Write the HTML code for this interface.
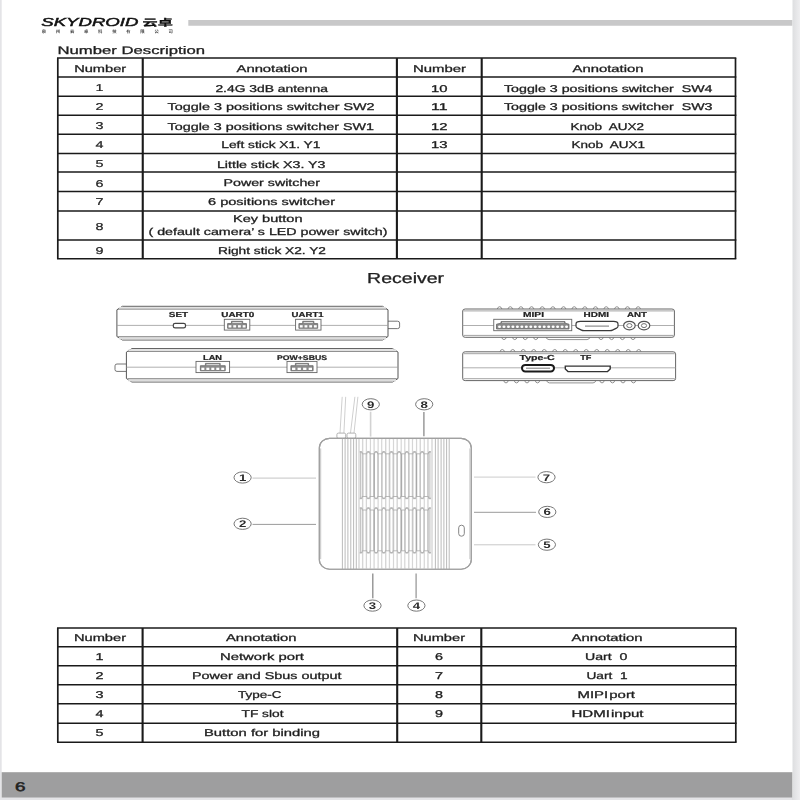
<!DOCTYPE html>
<html lang="en"><head><meta charset="utf-8"><title>Skydroid manual page 6</title>
<style>
html,body{margin:0;padding:0;background:#e4e4e7;width:800px;height:800px;overflow:hidden}
svg{display:block;text-rendering:geometricPrecision;font-family:"Liberation Sans","Noto Sans CJK SC",sans-serif}
text{white-space:pre}
</style></head><body>
<svg width="800" height="800" viewBox="0 0 800 800">
<defs><linearGradient id="mg" x1="0" y1="0" x2="1" y2="0"><stop offset="0" stop-color="#dcdddf"/><stop offset="1" stop-color="#eeeef0"/></linearGradient></defs>
<rect x="0" y="0" width="800" height="800" fill="#e4e4e7"/>
<rect x="792" y="0" width="8" height="800" fill="url(#mg)"/>
<rect x="1.7" y="0" width="790.8" height="797.6" fill="#fff"/>
<rect x="188.3" y="20" width="604" height="5.75" fill="#c8c8c9"/>
<rect x="1.7" y="772.2" width="790.6" height="25.4" fill="#9e9e9f"/>
<text x="14.9" y="791.0" font-size="12.6" font-weight="normal" fill="#202020" stroke="#202020" stroke-width="0.5" textLength="10.5" lengthAdjust="spacingAndGlyphs" >6</text>
<g style="filter:blur(0.4px)">
<text x="41.3" y="25.8" font-size="11.6" font-weight="normal" font-style="italic" fill="#111" stroke="#111" stroke-width="0.45" textLength="97.1" lengthAdjust="spacingAndGlyphs" >SKYDROID</text>
<text x="142.6" y="25.6" font-size="9.5" font-weight="bold" fill="#111" stroke="#111" stroke-width="0.28" textLength="30.2" lengthAdjust="spacingAndGlyphs" >云卓</text>
<text x="41.7" y="33.3" font-size="4.3" font-weight="bold" fill="#444" stroke="#444" stroke-width="0" textLength="131.1" lengthAdjust="spacing" >泉州云卓科技有限公司</text>
<text x="57.5" y="54.4" font-size="11" font-weight="normal" fill="#202020" stroke="#202020" stroke-width="0.28" textLength="147.5" lengthAdjust="spacingAndGlyphs" >Number Description</text>
<line x1="57.0" y1="58.1" x2="736.3" y2="58.1" stroke="#1a1a1a" stroke-width="1.5"/>
<line x1="57.0" y1="77.1" x2="736.3" y2="77.1" stroke="#1a1a1a" stroke-width="1.5"/>
<line x1="57.0" y1="96.35" x2="736.3" y2="96.35" stroke="#1a1a1a" stroke-width="1.5"/>
<line x1="57.0" y1="115.2" x2="736.3" y2="115.2" stroke="#1a1a1a" stroke-width="1.5"/>
<line x1="57.0" y1="134.2" x2="736.3" y2="134.2" stroke="#1a1a1a" stroke-width="1.5"/>
<line x1="57.0" y1="153.4" x2="736.3" y2="153.4" stroke="#1a1a1a" stroke-width="1.5"/>
<line x1="57.0" y1="172" x2="736.3" y2="172" stroke="#1a1a1a" stroke-width="1.5"/>
<line x1="57.0" y1="191.6" x2="736.3" y2="191.6" stroke="#1a1a1a" stroke-width="1.5"/>
<line x1="57.0" y1="210.9" x2="736.3" y2="210.9" stroke="#1a1a1a" stroke-width="1.5"/>
<line x1="57.0" y1="239.9" x2="736.3" y2="239.9" stroke="#1a1a1a" stroke-width="1.5"/>
<line x1="57.0" y1="258.75" x2="736.3" y2="258.75" stroke="#1a1a1a" stroke-width="1.5"/>
<line x1="57.8" y1="58.1" x2="57.8" y2="258.75" stroke="#1a1a1a" stroke-width="1.7"/>
<line x1="142.75" y1="58.1" x2="142.75" y2="258.75" stroke="#1a1a1a" stroke-width="2.1"/>
<line x1="396.9" y1="58.1" x2="396.9" y2="258.75" stroke="#1a1a1a" stroke-width="2.1"/>
<line x1="481.7" y1="58.1" x2="481.7" y2="258.75" stroke="#1a1a1a" stroke-width="2.1"/>
<line x1="735.5" y1="58.1" x2="735.5" y2="258.75" stroke="#1a1a1a" stroke-width="1.7"/>
<text x="74.2" y="72.0" font-size="9.9" font-weight="normal" fill="#202020" stroke="#202020" stroke-width="0.28" textLength="52.0" lengthAdjust="spacingAndGlyphs" >Number</text>
<text x="236.5" y="72.0" font-size="9.9" font-weight="normal" fill="#202020" stroke="#202020" stroke-width="0.28" textLength="70.9" lengthAdjust="spacingAndGlyphs" >Annotation</text>
<text x="413.0" y="72.0" font-size="9.9" font-weight="normal" fill="#202020" stroke="#202020" stroke-width="0.28" textLength="53.0" lengthAdjust="spacingAndGlyphs" >Number</text>
<text x="572.5" y="72.0" font-size="9.9" font-weight="normal" fill="#202020" stroke="#202020" stroke-width="0.28" textLength="71.0" lengthAdjust="spacingAndGlyphs" >Annotation</text>
<text x="95.6" y="90.9" font-size="9.9" font-weight="normal" fill="#202020" stroke="#202020" stroke-width="0.2" textLength="8.0" lengthAdjust="spacingAndGlyphs" >1</text>
<text x="95.6" y="110.1" font-size="9.9" font-weight="normal" fill="#202020" stroke="#202020" stroke-width="0.2" textLength="8.0" lengthAdjust="spacingAndGlyphs" >2</text>
<text x="95.6" y="128.8" font-size="9.9" font-weight="normal" fill="#202020" stroke="#202020" stroke-width="0.2" textLength="8.0" lengthAdjust="spacingAndGlyphs" >3</text>
<text x="95.6" y="147.8" font-size="9.9" font-weight="normal" fill="#202020" stroke="#202020" stroke-width="0.2" textLength="8.0" lengthAdjust="spacingAndGlyphs" >4</text>
<text x="95.6" y="167.3" font-size="9.9" font-weight="normal" fill="#202020" stroke="#202020" stroke-width="0.2" textLength="8.0" lengthAdjust="spacingAndGlyphs" >5</text>
<text x="95.6" y="186.6" font-size="9.9" font-weight="normal" fill="#202020" stroke="#202020" stroke-width="0.2" textLength="8.0" lengthAdjust="spacingAndGlyphs" >6</text>
<text x="95.6" y="205.3" font-size="9.9" font-weight="normal" fill="#202020" stroke="#202020" stroke-width="0.2" textLength="8.0" lengthAdjust="spacingAndGlyphs" >7</text>
<text x="95.6" y="230.0" font-size="9.9" font-weight="normal" fill="#202020" stroke="#202020" stroke-width="0.2" textLength="8.0" lengthAdjust="spacingAndGlyphs" >8</text>
<text x="95.6" y="254.3" font-size="9.9" font-weight="normal" fill="#202020" stroke="#202020" stroke-width="0.2" textLength="8.0" lengthAdjust="spacingAndGlyphs" >9</text>
<text x="215.4" y="91.5" font-size="9.9" font-weight="normal" fill="#202020" stroke="#202020" stroke-width="0.28" textLength="112.5" lengthAdjust="spacingAndGlyphs" >2.4G 3dB antenna</text>
<text x="167.6" y="110.0" font-size="9.9" font-weight="normal" fill="#202020" stroke="#202020" stroke-width="0.28" textLength="207.0" lengthAdjust="spacingAndGlyphs" >Toggle 3 positions switcher SW2</text>
<text x="167.6" y="129.5" font-size="9.9" font-weight="normal" fill="#202020" stroke="#202020" stroke-width="0.28" textLength="206.4" lengthAdjust="spacingAndGlyphs" >Toggle 3 positions switcher SW1</text>
<text x="221.3" y="148.3" font-size="9.9" font-weight="normal" fill="#202020" stroke="#202020" stroke-width="0.28" textLength="99.1" lengthAdjust="spacingAndGlyphs" >Left stick X1. Y1</text>
<text x="217.0" y="168.0" font-size="9.9" font-weight="normal" fill="#202020" stroke="#202020" stroke-width="0.28" textLength="108.3" lengthAdjust="spacingAndGlyphs" >Little stick X3. Y3</text>
<text x="223.5" y="186.0" font-size="9.9" font-weight="normal" fill="#202020" stroke="#202020" stroke-width="0.28" textLength="96.5" lengthAdjust="spacingAndGlyphs" >Power switcher</text>
<text x="208.0" y="205.3" font-size="9.9" font-weight="normal" fill="#202020" stroke="#202020" stroke-width="0.28" textLength="127.0" lengthAdjust="spacingAndGlyphs" >6 positions switcher</text>
<text x="218.0" y="253.8" font-size="9.9" font-weight="normal" fill="#202020" stroke="#202020" stroke-width="0.28" textLength="108.0" lengthAdjust="spacingAndGlyphs" >Right stick X2. Y2</text>
<text x="233.0" y="221.6" font-size="9.9" font-weight="normal" fill="#202020" stroke="#202020" stroke-width="0.28" textLength="69.5" lengthAdjust="spacingAndGlyphs" >Key button</text>
<text x="148.5" y="235.1" font-size="9.9" font-weight="normal" fill="#202020" stroke="#202020" stroke-width="0.28" textLength="239.0" lengthAdjust="spacingAndGlyphs" >( default camera’ s LED power switch)</text>
<text x="431.0" y="91.5" font-size="9.9" font-weight="normal" fill="#202020" stroke="#202020" stroke-width="0.28" textLength="16.5" lengthAdjust="spacingAndGlyphs" >10</text>
<text x="431.0" y="110.0" font-size="9.9" font-weight="normal" fill="#202020" stroke="#202020" stroke-width="0.28" textLength="16.5" lengthAdjust="spacingAndGlyphs" >11</text>
<text x="431.0" y="129.5" font-size="9.9" font-weight="normal" fill="#202020" stroke="#202020" stroke-width="0.28" textLength="16.5" lengthAdjust="spacingAndGlyphs" >12</text>
<text x="431.0" y="148.3" font-size="9.9" font-weight="normal" fill="#202020" stroke="#202020" stroke-width="0.28" textLength="16.5" lengthAdjust="spacingAndGlyphs" >13</text>
<text x="504.0" y="91.5" font-size="9.9" font-weight="normal" fill="#202020" stroke="#202020" stroke-width="0.28" textLength="208.5" lengthAdjust="spacingAndGlyphs" >Toggle 3 positions switcher  SW4</text>
<text x="504.0" y="110.0" font-size="9.9" font-weight="normal" fill="#202020" stroke="#202020" stroke-width="0.28" textLength="208.5" lengthAdjust="spacingAndGlyphs" >Toggle 3 positions switcher  SW3</text>
<text x="570.5" y="129.5" font-size="9.9" font-weight="normal" fill="#202020" stroke="#202020" stroke-width="0.28" textLength="73.5" lengthAdjust="spacingAndGlyphs" >Knob  AUX2</text>
<text x="571.5" y="148.3" font-size="9.9" font-weight="normal" fill="#202020" stroke="#202020" stroke-width="0.28" textLength="73.5" lengthAdjust="spacingAndGlyphs" >Knob  AUX1</text>
<text x="367.1" y="283.0" font-size="14.5" font-weight="normal" fill="#202020" stroke="#202020" stroke-width="0.28" textLength="77.0" lengthAdjust="spacingAndGlyphs" >Receiver</text>
<line x1="57.0" y1="628" x2="736.5999999999999" y2="628" stroke="#1a1a1a" stroke-width="1.5"/>
<line x1="57.0" y1="646.8" x2="736.5999999999999" y2="646.8" stroke="#1a1a1a" stroke-width="1.5"/>
<line x1="57.0" y1="665.8" x2="736.5999999999999" y2="665.8" stroke="#1a1a1a" stroke-width="1.5"/>
<line x1="57.0" y1="684.7" x2="736.5999999999999" y2="684.7" stroke="#1a1a1a" stroke-width="1.5"/>
<line x1="57.0" y1="703.8" x2="736.5999999999999" y2="703.8" stroke="#1a1a1a" stroke-width="1.5"/>
<line x1="57.0" y1="723.2" x2="736.5999999999999" y2="723.2" stroke="#1a1a1a" stroke-width="1.5"/>
<line x1="57.0" y1="742.3" x2="736.5999999999999" y2="742.3" stroke="#1a1a1a" stroke-width="1.5"/>
<line x1="57.8" y1="628" x2="57.8" y2="742.3" stroke="#1a1a1a" stroke-width="1.7"/>
<line x1="142.6" y1="628" x2="142.6" y2="742.3" stroke="#1a1a1a" stroke-width="2.1"/>
<line x1="397.2" y1="628" x2="397.2" y2="742.3" stroke="#1a1a1a" stroke-width="2.1"/>
<line x1="481.3" y1="628" x2="481.3" y2="742.3" stroke="#1a1a1a" stroke-width="2.1"/>
<line x1="735.8" y1="628" x2="735.8" y2="742.3" stroke="#1a1a1a" stroke-width="1.7"/>
<text x="74.0" y="640.7" font-size="9.9" font-weight="normal" fill="#202020" stroke="#202020" stroke-width="0.28" textLength="52.0" lengthAdjust="spacingAndGlyphs" >Number</text>
<text x="226.0" y="640.7" font-size="9.9" font-weight="normal" fill="#202020" stroke="#202020" stroke-width="0.28" textLength="70.5" lengthAdjust="spacingAndGlyphs" >Annotation</text>
<text x="413.0" y="640.7" font-size="9.9" font-weight="normal" fill="#202020" stroke="#202020" stroke-width="0.28" textLength="52.0" lengthAdjust="spacingAndGlyphs" >Number</text>
<text x="571.5" y="640.7" font-size="9.9" font-weight="normal" fill="#202020" stroke="#202020" stroke-width="0.28" textLength="71.0" lengthAdjust="spacingAndGlyphs" >Annotation</text>
<text x="95.6" y="659.7" font-size="9.9" font-weight="normal" fill="#202020" stroke="#202020" stroke-width="0.28" textLength="8.0" lengthAdjust="spacingAndGlyphs" >1</text>
<text x="95.6" y="678.6" font-size="9.9" font-weight="normal" fill="#202020" stroke="#202020" stroke-width="0.28" textLength="8.0" lengthAdjust="spacingAndGlyphs" >2</text>
<text x="95.6" y="697.7" font-size="9.9" font-weight="normal" fill="#202020" stroke="#202020" stroke-width="0.28" textLength="8.0" lengthAdjust="spacingAndGlyphs" >3</text>
<text x="95.6" y="717.1" font-size="9.9" font-weight="normal" fill="#202020" stroke="#202020" stroke-width="0.28" textLength="8.0" lengthAdjust="spacingAndGlyphs" >4</text>
<text x="95.6" y="736.2" font-size="9.9" font-weight="normal" fill="#202020" stroke="#202020" stroke-width="0.28" textLength="8.0" lengthAdjust="spacingAndGlyphs" >5</text>
<text x="435.0" y="659.7" font-size="9.9" font-weight="normal" fill="#202020" stroke="#202020" stroke-width="0.28" textLength="8.0" lengthAdjust="spacingAndGlyphs" >6</text>
<text x="435.0" y="678.6" font-size="9.9" font-weight="normal" fill="#202020" stroke="#202020" stroke-width="0.28" textLength="8.0" lengthAdjust="spacingAndGlyphs" >7</text>
<text x="435.0" y="697.7" font-size="9.9" font-weight="normal" fill="#202020" stroke="#202020" stroke-width="0.28" textLength="8.0" lengthAdjust="spacingAndGlyphs" >8</text>
<text x="435.0" y="717.1" font-size="9.9" font-weight="normal" fill="#202020" stroke="#202020" stroke-width="0.28" textLength="8.0" lengthAdjust="spacingAndGlyphs" >9</text>
<text x="220.0" y="659.7" font-size="9.9" font-weight="normal" fill="#202020" stroke="#202020" stroke-width="0.28" textLength="84.0" lengthAdjust="spacingAndGlyphs" >Network port</text>
<text x="192.0" y="678.6" font-size="9.9" font-weight="normal" fill="#202020" stroke="#202020" stroke-width="0.28" textLength="149.5" lengthAdjust="spacingAndGlyphs" >Power and Sbus output</text>
<text x="238.0" y="697.7" font-size="9.9" font-weight="normal" fill="#202020" stroke="#202020" stroke-width="0.28" textLength="43.5" lengthAdjust="spacingAndGlyphs" >Type-C</text>
<text x="241.5" y="717.1" font-size="9.9" font-weight="normal" fill="#202020" stroke="#202020" stroke-width="0.28" textLength="42.0" lengthAdjust="spacingAndGlyphs" >TF slot</text>
<text x="204.0" y="736.2" font-size="9.9" font-weight="normal" fill="#202020" stroke="#202020" stroke-width="0.28" textLength="116.0" lengthAdjust="spacingAndGlyphs" >Button for binding</text>
<text x="585.0" y="659.7" font-size="9.9" font-weight="normal" fill="#202020" stroke="#202020" stroke-width="0.28" textLength="42.5" lengthAdjust="spacingAndGlyphs" >Uart  0</text>
<text x="586.5" y="678.6" font-size="9.9" font-weight="normal" fill="#202020" stroke="#202020" stroke-width="0.28" textLength="41.0" lengthAdjust="spacingAndGlyphs" >Uart  1</text>
<text x="577.5" y="697.7" font-size="9.9" font-weight="normal" fill="#202020" stroke="#202020" stroke-width="0.28" textLength="57.5" lengthAdjust="spacingAndGlyphs" word-spacing="-2">MIPI port</text>
<text x="571.5" y="717.1" font-size="9.9" font-weight="normal" fill="#202020" stroke="#202020" stroke-width="0.28" textLength="72.0" lengthAdjust="spacingAndGlyphs" word-spacing="-2">HDMI input</text>
<path d="M388,321.2 L397.5,321.2 Q399.6,321.2 399.6,323 L399.6,326.8 Q399.6,328.6 397.5,328.6 L388,328.6" stroke="#666" stroke-width="0.9" fill="#fff" />
<path d="M122.4,306.3 L382.5,306.3 L388,309.8 L388,336.5 L382.5,340 L122.4,340 L116.9,336.5 L116.9,309.8 Z" stroke="#555" stroke-width="1.0" fill="#fff" />
<rect x="118.9" y="306.90000000000003" width="267.1" height="2.2" fill="#e2e2e2"/>
<rect x="118.9" y="336.8" width="267.1" height="2.6" fill="#dcdcdc"/>
<line x1="118.10" y1="309.20" x2="386.80" y2="309.20" stroke="#777" stroke-width="0.8"/>
<line x1="118.10" y1="336.60" x2="386.80" y2="336.60" stroke="#777" stroke-width="0.8"/>
<line x1="116.90" y1="325.40" x2="388.00" y2="325.40" stroke="#9a9a9a" stroke-width="0.8"/>
<text x="168.8" y="317.2" font-size="7.3" font-weight="bold" fill="#222" stroke="#222" stroke-width="0.2" textLength="19.3" lengthAdjust="spacingAndGlyphs">SET</text>
<rect x="173.30" y="323.30" width="12.20" height="4.60" rx="1.8" ry="1.6" stroke="#444" stroke-width="1.2" fill="#fff"/>
<text x="221.3" y="317.3" font-size="7.3" font-weight="bold" fill="#222" stroke="#222" stroke-width="0.2" textLength="33.0" lengthAdjust="spacingAndGlyphs">UART0</text>
<rect x="224.30" y="319.30" width="25.50" height="10.80" rx="0" ry="0" stroke="#666" stroke-width="0.9" fill="#fff"/>
<path d="M231.44,321.3 L242.66000000000003,321.3 L242.66000000000003,323.6 L246.485,323.6 L246.485,328.3 L227.615,328.3 L227.615,323.6 L231.44,323.6 Z" stroke="#666" stroke-width="0.8" fill="#8a8a8a" />
<line x1="232.44" y1="322.50" x2="241.66" y2="322.50" stroke="#fff" stroke-width="0.7"/>
<rect x="228.56" y="325.20" width="2.83" height="2.3" fill="#fff"/>
<rect x="233.28" y="325.20" width="2.83" height="2.3" fill="#fff"/>
<rect x="237.99" y="325.20" width="2.83" height="2.3" fill="#fff"/>
<rect x="242.71" y="325.20" width="2.83" height="2.3" fill="#fff"/>
<text x="291.6" y="317.3" font-size="7.3" font-weight="bold" fill="#222" stroke="#222" stroke-width="0.2" textLength="32.0" lengthAdjust="spacingAndGlyphs">UART1</text>
<rect x="295.60" y="319.30" width="25.40" height="10.80" rx="0" ry="0" stroke="#666" stroke-width="0.9" fill="#fff"/>
<path d="M302.712,321.3 L313.88800000000003,321.3 L313.88800000000003,323.6 L317.698,323.6 L317.698,328.3 L298.90200000000004,328.3 L298.90200000000004,323.6 L302.712,323.6 Z" stroke="#666" stroke-width="0.8" fill="#8a8a8a" />
<line x1="303.71" y1="322.50" x2="312.89" y2="322.50" stroke="#fff" stroke-width="0.7"/>
<rect x="299.84" y="325.20" width="2.82" height="2.3" fill="#fff"/>
<rect x="304.54" y="325.20" width="2.82" height="2.3" fill="#fff"/>
<rect x="309.24" y="325.20" width="2.82" height="2.3" fill="#fff"/>
<rect x="313.94" y="325.20" width="2.82" height="2.3" fill="#fff"/>
<path d="M126.4,364 L117,364 Q115,364 115,365.8 L115,369.6 Q115,371.4 117,371.4 L126.4,371.4" stroke="#666" stroke-width="0.9" fill="#fff" />
<path d="M131.9,348.6 L392.5,348.6 L398,352.1 L398,378.5 L392.5,382 L131.9,382 L126.4,378.5 L126.4,352.1 Z" stroke="#555" stroke-width="1.0" fill="#fff" />
<rect x="128.4" y="349.20000000000005" width="267.6" height="2.2" fill="#e2e2e2"/>
<rect x="128.4" y="378.8" width="267.6" height="2.6" fill="#dcdcdc"/>
<line x1="127.60" y1="351.50" x2="396.80" y2="351.50" stroke="#777" stroke-width="0.8"/>
<line x1="127.60" y1="378.60" x2="396.80" y2="378.60" stroke="#777" stroke-width="0.8"/>
<line x1="126.40" y1="367.20" x2="398.00" y2="367.20" stroke="#9a9a9a" stroke-width="0.8"/>
<text x="203.0" y="359.6" font-size="7.3" font-weight="bold" fill="#222" stroke="#222" stroke-width="0.2" textLength="19.0" lengthAdjust="spacingAndGlyphs">LAN</text>
<rect x="196.00" y="361.40" width="33.60" height="11.20" rx="0" ry="0" stroke="#666" stroke-width="0.9" fill="#fff"/>
<path d="M205.408,363.4 L220.192,363.4 L220.192,365.7 L225.232,365.7 L225.232,370.8 L200.368,370.8 L200.368,365.7 L205.408,365.7 Z" stroke="#666" stroke-width="0.8" fill="#8a8a8a" />
<line x1="206.41" y1="364.60" x2="219.19" y2="364.60" stroke="#fff" stroke-width="0.7"/>
<rect x="201.36" y="367.70" width="2.98" height="2.3" fill="#fff"/>
<rect x="206.34" y="367.70" width="2.98" height="2.3" fill="#fff"/>
<rect x="211.31" y="367.70" width="2.98" height="2.3" fill="#fff"/>
<rect x="216.28" y="367.70" width="2.98" height="2.3" fill="#fff"/>
<rect x="221.25" y="367.70" width="2.98" height="2.3" fill="#fff"/>
<text x="277.0" y="359.8" font-size="6.8" font-weight="bold" fill="#222" stroke="#222" stroke-width="0.2" textLength="50.0" lengthAdjust="spacingAndGlyphs">POW+SBUS</text>
<rect x="287.00" y="361.40" width="30.00" height="11.20" rx="0" ry="0" stroke="#666" stroke-width="0.9" fill="#fff"/>
<path d="M295.4,363.4 L308.6,363.4 L308.6,365.7 L313.1,365.7 L313.1,370.8 L290.9,370.8 L290.9,365.7 L295.4,365.7 Z" stroke="#666" stroke-width="0.8" fill="#8a8a8a" />
<line x1="296.40" y1="364.60" x2="307.60" y2="364.60" stroke="#fff" stroke-width="0.7"/>
<rect x="292.01" y="367.70" width="3.33" height="2.3" fill="#fff"/>
<rect x="297.56" y="367.70" width="3.33" height="2.3" fill="#fff"/>
<rect x="303.11" y="367.70" width="3.33" height="2.3" fill="#fff"/>
<rect x="308.66" y="367.70" width="3.33" height="2.3" fill="#fff"/>
<path d="M497.30,309 Q497.90,306.70 499.60,306.70 Q501.30,306.70 501.90,309" stroke="#777" stroke-width="0.8" fill="#fff" />
<path d="M507.96,309 Q508.56,306.70 510.26,306.70 Q511.96,306.70 512.56,309" stroke="#777" stroke-width="0.8" fill="#fff" />
<path d="M518.62,309 Q519.22,306.70 520.92,306.70 Q522.62,306.70 523.22,309" stroke="#777" stroke-width="0.8" fill="#fff" />
<path d="M529.28,309 Q529.88,306.70 531.58,306.70 Q533.28,306.70 533.88,309" stroke="#777" stroke-width="0.8" fill="#fff" />
<path d="M539.94,309 Q540.54,306.70 542.24,306.70 Q543.94,306.70 544.54,309" stroke="#777" stroke-width="0.8" fill="#fff" />
<path d="M550.60,309 Q551.20,306.70 552.90,306.70 Q554.60,306.70 555.20,309" stroke="#777" stroke-width="0.8" fill="#fff" />
<path d="M561.26,309 Q561.86,306.70 563.56,306.70 Q565.26,306.70 565.86,309" stroke="#777" stroke-width="0.8" fill="#fff" />
<path d="M571.92,309 Q572.52,306.70 574.22,306.70 Q575.92,306.70 576.52,309" stroke="#777" stroke-width="0.8" fill="#fff" />
<path d="M582.58,309 Q583.18,306.70 584.88,306.70 Q586.58,306.70 587.18,309" stroke="#777" stroke-width="0.8" fill="#fff" />
<path d="M593.24,309 Q593.84,306.70 595.54,306.70 Q597.24,306.70 597.84,309" stroke="#777" stroke-width="0.8" fill="#fff" />
<path d="M603.90,309 Q604.50,306.70 606.20,306.70 Q607.90,306.70 608.50,309" stroke="#777" stroke-width="0.8" fill="#fff" />
<path d="M614.56,309 Q615.16,306.70 616.86,306.70 Q618.56,306.70 619.16,309" stroke="#777" stroke-width="0.8" fill="#fff" />
<path d="M625.22,309 Q625.82,306.70 627.52,306.70 Q629.22,306.70 629.82,309" stroke="#777" stroke-width="0.8" fill="#fff" />
<path d="M635.88,309 Q636.48,306.70 638.18,306.70 Q639.88,306.70 640.48,309" stroke="#777" stroke-width="0.8" fill="#fff" />
<path d="M501.70,337.3 Q502.30,339.60 504.00,339.60 Q505.70,339.60 506.30,337.3" stroke="#777" stroke-width="0.8" fill="#fff" />
<path d="M512.45,337.3 Q513.05,339.60 514.75,339.60 Q516.45,339.60 517.05,337.3" stroke="#777" stroke-width="0.8" fill="#fff" />
<path d="M522.95,337.3 Q523.55,339.60 525.25,339.60 Q526.95,339.60 527.55,337.3" stroke="#777" stroke-width="0.8" fill="#fff" />
<path d="M533.45,337.3 Q534.05,339.60 535.75,339.60 Q537.45,339.60 538.05,337.3" stroke="#777" stroke-width="0.8" fill="#fff" />
<path d="M598.70,337.3 Q599.30,339.60 601.00,339.60 Q602.70,339.60 603.30,337.3" stroke="#777" stroke-width="0.8" fill="#fff" />
<path d="M609.30,337.3 Q609.90,339.60 611.60,339.60 Q613.30,339.60 613.90,337.3" stroke="#777" stroke-width="0.8" fill="#fff" />
<path d="M620.10,337.3 Q620.70,339.60 622.40,339.60 Q624.10,339.60 624.70,337.3" stroke="#777" stroke-width="0.8" fill="#fff" />
<path d="M630.70,337.3 Q631.30,339.60 633.00,339.60 Q634.70,339.60 635.30,337.3" stroke="#777" stroke-width="0.8" fill="#fff" />
<path d="M546,337.3 Q547,339.6 549,339.6 L587,339.6 Q589,339.6 590,337.3" stroke="#777" stroke-width="0.8" fill="#fff" />
<rect x="462.70" y="309.00" width="211.70" height="28.30" rx="2.5" ry="2" stroke="#666" stroke-width="1.0" fill="#fff"/>
<line x1="463.50" y1="310.90" x2="673.60" y2="310.90" stroke="#8a8a8a" stroke-width="0.8"/>
<line x1="463.50" y1="335.40" x2="673.60" y2="335.40" stroke="#8a8a8a" stroke-width="0.8"/>
<line x1="462.70" y1="325.50" x2="674.40" y2="325.50" stroke="#9a9a9a" stroke-width="0.8"/>
<text x="523.0" y="317.4" font-size="7.3" font-weight="bold" fill="#222" stroke="#222" stroke-width="0.2" textLength="21.0" lengthAdjust="spacingAndGlyphs">MIPI</text>
<rect x="493.75" y="319.30" width="78.00" height="11.40" rx="0" ry="0" stroke="#666" stroke-width="0.9" fill="#fff"/>
<path d="M501,321.6 L565,321.6 L565,323.2 L569,324.2 L569,329 L496.5,329 L496.5,324.2 L501,323.2 Z" stroke="#666" stroke-width="0.8" fill="#8a8a8a" />
<line x1="502.00" y1="322.50" x2="564.00" y2="322.50" stroke="#eee" stroke-width="0.6"/>
<ellipse cx="499.50" cy="326.7" rx="1.5" ry="1.25" fill="#fff"/>
<ellipse cx="503.97" cy="326.7" rx="1.5" ry="1.25" fill="#fff"/>
<ellipse cx="508.44" cy="326.7" rx="1.5" ry="1.25" fill="#fff"/>
<ellipse cx="512.91" cy="326.7" rx="1.5" ry="1.25" fill="#fff"/>
<ellipse cx="517.38" cy="326.7" rx="1.5" ry="1.25" fill="#fff"/>
<ellipse cx="521.85" cy="326.7" rx="1.5" ry="1.25" fill="#fff"/>
<ellipse cx="526.32" cy="326.7" rx="1.5" ry="1.25" fill="#fff"/>
<ellipse cx="530.79" cy="326.7" rx="1.5" ry="1.25" fill="#fff"/>
<ellipse cx="535.26" cy="326.7" rx="1.5" ry="1.25" fill="#fff"/>
<ellipse cx="539.73" cy="326.7" rx="1.5" ry="1.25" fill="#fff"/>
<ellipse cx="544.20" cy="326.7" rx="1.5" ry="1.25" fill="#fff"/>
<ellipse cx="548.67" cy="326.7" rx="1.5" ry="1.25" fill="#fff"/>
<ellipse cx="553.14" cy="326.7" rx="1.5" ry="1.25" fill="#fff"/>
<ellipse cx="557.61" cy="326.7" rx="1.5" ry="1.25" fill="#fff"/>
<ellipse cx="562.08" cy="326.7" rx="1.5" ry="1.25" fill="#fff"/>
<ellipse cx="566.55" cy="326.7" rx="1.5" ry="1.25" fill="#fff"/>
<text x="583.6" y="317.4" font-size="7.3" font-weight="bold" fill="#222" stroke="#222" stroke-width="0.2" textLength="25.4" lengthAdjust="spacingAndGlyphs">HDMI</text>
<path d="M580.5,321.4 L613.5,321.4 Q618,321.4 618,324 L618,326.3 Q618,327.3 616.5,328.1 L612.5,330.1 Q611.5,330.6 610,330.6 L584,330.6 Q582.5,330.6 581.5,330.1 L577.5,328.1 Q576,327.3 576,326.3 L576,324 Q576,321.4 580.5,321.4 Z" stroke="#3a3a3a" stroke-width="1.2" fill="#fff" />
<line x1="585.00" y1="326.10" x2="609.00" y2="326.10" stroke="#666" stroke-width="0.9"/>
<text x="627.0" y="317.4" font-size="7.3" font-weight="bold" fill="#222" stroke="#222" stroke-width="0.2" textLength="20.0" lengthAdjust="spacingAndGlyphs">ANT</text>
<ellipse cx="629.4" cy="325.6" rx="5.8" ry="4.3" fill="#fff" stroke="#555" stroke-width="1.2"/>
<ellipse cx="629.4" cy="325.6" rx="2.6" ry="2" fill="#fff" stroke="#666" stroke-width="0.9"/>
<ellipse cx="644" cy="325.6" rx="5.8" ry="4.3" fill="#fff" stroke="#555" stroke-width="1.2"/>
<ellipse cx="644" cy="325.6" rx="2.6" ry="2" fill="#fff" stroke="#666" stroke-width="0.9"/>
<path d="M499.95,351.8 Q500.55,349.50 502.25,349.50 Q503.95,349.50 504.55,351.8" stroke="#777" stroke-width="0.8" fill="#fff" />
<path d="M510.45,351.8 Q511.05,349.50 512.75,349.50 Q514.45,349.50 515.05,351.8" stroke="#777" stroke-width="0.8" fill="#fff" />
<path d="M520.95,351.8 Q521.55,349.50 523.25,349.50 Q524.95,349.50 525.55,351.8" stroke="#777" stroke-width="0.8" fill="#fff" />
<path d="M531.45,351.8 Q532.05,349.50 533.75,349.50 Q535.45,349.50 536.05,351.8" stroke="#777" stroke-width="0.8" fill="#fff" />
<path d="M541.95,351.8 Q542.55,349.50 544.25,349.50 Q545.95,349.50 546.55,351.8" stroke="#777" stroke-width="0.8" fill="#fff" />
<path d="M552.45,351.8 Q553.05,349.50 554.75,349.50 Q556.45,349.50 557.05,351.8" stroke="#777" stroke-width="0.8" fill="#fff" />
<path d="M562.95,351.8 Q563.55,349.50 565.25,349.50 Q566.95,349.50 567.55,351.8" stroke="#777" stroke-width="0.8" fill="#fff" />
<path d="M573.45,351.8 Q574.05,349.50 575.75,349.50 Q577.45,349.50 578.05,351.8" stroke="#777" stroke-width="0.8" fill="#fff" />
<path d="M583.95,351.8 Q584.55,349.50 586.25,349.50 Q587.95,349.50 588.55,351.8" stroke="#777" stroke-width="0.8" fill="#fff" />
<path d="M594.45,351.8 Q595.05,349.50 596.75,349.50 Q598.45,349.50 599.05,351.8" stroke="#777" stroke-width="0.8" fill="#fff" />
<path d="M604.95,351.8 Q605.55,349.50 607.25,349.50 Q608.95,349.50 609.55,351.8" stroke="#777" stroke-width="0.8" fill="#fff" />
<path d="M615.45,351.8 Q616.05,349.50 617.75,349.50 Q619.45,349.50 620.05,351.8" stroke="#777" stroke-width="0.8" fill="#fff" />
<path d="M625.95,351.8 Q626.55,349.50 628.25,349.50 Q629.95,349.50 630.55,351.8" stroke="#777" stroke-width="0.8" fill="#fff" />
<path d="M636.45,351.8 Q637.05,349.50 638.75,349.50 Q640.45,349.50 641.05,351.8" stroke="#777" stroke-width="0.8" fill="#fff" />
<path d="M503.70,380.6 Q504.30,382.90 506.00,382.90 Q507.70,382.90 508.30,380.6" stroke="#777" stroke-width="0.8" fill="#fff" />
<path d="M514.20,380.6 Q514.80,382.90 516.50,382.90 Q518.20,382.90 518.80,380.6" stroke="#777" stroke-width="0.8" fill="#fff" />
<path d="M524.70,380.6 Q525.30,382.90 527.00,382.90 Q528.70,382.90 529.30,380.6" stroke="#777" stroke-width="0.8" fill="#fff" />
<path d="M535.20,380.6 Q535.80,382.90 537.50,382.90 Q539.20,382.90 539.80,380.6" stroke="#777" stroke-width="0.8" fill="#fff" />
<path d="M599.70,380.6 Q600.30,382.90 602.00,382.90 Q603.70,382.90 604.30,380.6" stroke="#777" stroke-width="0.8" fill="#fff" />
<path d="M610.20,380.6 Q610.80,382.90 612.50,382.90 Q614.20,382.90 614.80,380.6" stroke="#777" stroke-width="0.8" fill="#fff" />
<path d="M620.70,380.6 Q621.30,382.90 623.00,382.90 Q624.70,382.90 625.30,380.6" stroke="#777" stroke-width="0.8" fill="#fff" />
<path d="M631.20,380.6 Q631.80,382.90 633.50,382.90 Q635.20,382.90 635.80,380.6" stroke="#777" stroke-width="0.8" fill="#fff" />
<path d="M546.5,380.6 Q547.5,382.90000000000003 549.5,382.90000000000003 L593,382.90000000000003 Q595,382.90000000000003 596,380.6" stroke="#777" stroke-width="0.8" fill="#fff" />
<rect x="462.70" y="351.80" width="212.90" height="28.80" rx="2.5" ry="2" stroke="#666" stroke-width="1.0" fill="#fff"/>
<line x1="463.50" y1="353.70" x2="674.80" y2="353.70" stroke="#8a8a8a" stroke-width="0.8"/>
<line x1="463.50" y1="378.70" x2="674.80" y2="378.70" stroke="#8a8a8a" stroke-width="0.8"/>
<line x1="462.70" y1="367.80" x2="675.60" y2="367.80" stroke="#9a9a9a" stroke-width="0.8"/>
<text x="519.5" y="359.7" font-size="7.3" font-weight="bold" fill="#222" stroke="#222" stroke-width="0.2" textLength="35.2" lengthAdjust="spacingAndGlyphs">Type-C</text>
<rect x="522" y="364.9" width="32" height="6.6" rx="3.3" ry="3.2" fill="#fff" stroke="#1a1a1a" stroke-width="2"/>
<line x1="526.00" y1="368.20" x2="550.00" y2="368.20" stroke="#555" stroke-width="0.8"/>
<text x="580.2" y="359.7" font-size="7.3" font-weight="bold" fill="#222" stroke="#222" stroke-width="0.2" textLength="11.2" lengthAdjust="spacingAndGlyphs">TF</text>
<path d="M565.3,366.1 L610.2,366.1 L610.2,369 L607.5,371.6 L568,371.6 L565.3,369 Z" stroke="#333" stroke-width="1.4" fill="#fff" />
<line x1="342.20" y1="396.80" x2="340.00" y2="433.00" stroke="#cfcfcf" stroke-width="1.0"/>
<line x1="345.70" y1="396.80" x2="343.90" y2="433.00" stroke="#cfcfcf" stroke-width="1.0"/>
<line x1="354.90" y1="396.80" x2="350.50" y2="433.00" stroke="#cfcfcf" stroke-width="1.0"/>
<line x1="357.90" y1="396.80" x2="354.00" y2="433.00" stroke="#cfcfcf" stroke-width="1.0"/>
<rect x="336.90" y="433.10" width="8.80" height="5.30" rx="1.5" ry="1.5" stroke="#a8a8a8" stroke-width="0.9" fill="#fff"/>
<rect x="347.00" y="433.10" width="8.80" height="5.30" rx="1.5" ry="1.5" stroke="#a8a8a8" stroke-width="0.9" fill="#fff"/>
<rect x="319.30" y="438.40" width="152.00" height="130.80" rx="10.2" ry="9.6" stroke="#a0a0a0" stroke-width="1.1" fill="#fff"/>
<line x1="320.70" y1="448.40" x2="320.70" y2="559.20" stroke="#c0c0c0" stroke-width="0.9"/>
<line x1="469.90" y1="448.40" x2="469.90" y2="559.20" stroke="#c0c0c0" stroke-width="0.9"/>
<line x1="342.40" y1="438.40" x2="342.40" y2="569.20" stroke="#b2b2b2" stroke-width="0.9"/>
<line x1="345.10" y1="438.40" x2="345.10" y2="569.20" stroke="#b2b2b2" stroke-width="0.9"/>
<line x1="347.90" y1="438.40" x2="347.90" y2="569.20" stroke="#b2b2b2" stroke-width="0.9"/>
<line x1="350.80" y1="438.40" x2="350.80" y2="569.20" stroke="#b2b2b2" stroke-width="0.9"/>
<line x1="353.60" y1="438.40" x2="353.60" y2="569.20" stroke="#b2b2b2" stroke-width="0.9"/>
<line x1="356.30" y1="438.40" x2="356.30" y2="569.20" stroke="#b2b2b2" stroke-width="0.9"/>
<line x1="435.40" y1="438.40" x2="435.40" y2="569.20" stroke="#b2b2b2" stroke-width="0.9"/>
<line x1="438.10" y1="438.40" x2="438.10" y2="569.20" stroke="#b2b2b2" stroke-width="0.9"/>
<line x1="441.10" y1="438.40" x2="441.10" y2="569.20" stroke="#b2b2b2" stroke-width="0.9"/>
<line x1="443.90" y1="438.40" x2="443.90" y2="569.20" stroke="#b2b2b2" stroke-width="0.9"/>
<line x1="446.60" y1="438.40" x2="446.60" y2="569.20" stroke="#b2b2b2" stroke-width="0.9"/>
<line x1="449.20" y1="438.40" x2="449.20" y2="569.20" stroke="#b2b2b2" stroke-width="0.9"/>
<line x1="359.00" y1="438.40" x2="359.00" y2="569.20" stroke="#d6d6d6" stroke-width="1.4"/>
<line x1="362.65" y1="438.40" x2="362.65" y2="569.20" stroke="#d6d6d6" stroke-width="1.4"/>
<line x1="366.44" y1="438.40" x2="366.44" y2="569.20" stroke="#d6d6d6" stroke-width="1.4"/>
<line x1="370.34" y1="438.40" x2="370.34" y2="569.20" stroke="#d6d6d6" stroke-width="1.4"/>
<line x1="374.13" y1="438.40" x2="374.13" y2="569.20" stroke="#d6d6d6" stroke-width="1.4"/>
<line x1="378.03" y1="438.40" x2="378.03" y2="569.20" stroke="#d6d6d6" stroke-width="1.4"/>
<line x1="381.82" y1="438.40" x2="381.82" y2="569.20" stroke="#d6d6d6" stroke-width="1.4"/>
<line x1="385.72" y1="438.40" x2="385.72" y2="569.20" stroke="#d6d6d6" stroke-width="1.4"/>
<line x1="389.51" y1="438.40" x2="389.51" y2="569.20" stroke="#d6d6d6" stroke-width="1.4"/>
<line x1="393.41" y1="438.40" x2="393.41" y2="569.20" stroke="#d6d6d6" stroke-width="1.4"/>
<line x1="397.20" y1="438.40" x2="397.20" y2="569.20" stroke="#d6d6d6" stroke-width="1.4"/>
<line x1="401.10" y1="438.40" x2="401.10" y2="569.20" stroke="#d6d6d6" stroke-width="1.4"/>
<line x1="404.89" y1="438.40" x2="404.89" y2="569.20" stroke="#d6d6d6" stroke-width="1.4"/>
<line x1="408.79" y1="438.40" x2="408.79" y2="569.20" stroke="#d6d6d6" stroke-width="1.4"/>
<line x1="412.58" y1="438.40" x2="412.58" y2="569.20" stroke="#d6d6d6" stroke-width="1.4"/>
<line x1="416.48" y1="438.40" x2="416.48" y2="569.20" stroke="#d6d6d6" stroke-width="1.4"/>
<line x1="420.27" y1="438.40" x2="420.27" y2="569.20" stroke="#d6d6d6" stroke-width="1.4"/>
<line x1="424.17" y1="438.40" x2="424.17" y2="569.20" stroke="#d6d6d6" stroke-width="1.4"/>
<line x1="427.96" y1="438.40" x2="427.96" y2="569.20" stroke="#d6d6d6" stroke-width="1.4"/>
<line x1="432.00" y1="438.40" x2="432.00" y2="569.20" stroke="#d6d6d6" stroke-width="1.4"/>
<line x1="362.65" y1="453.80" x2="362.65" y2="496.50" stroke="#c6c6c6" stroke-width="1.5"/>
<line x1="366.44" y1="453.80" x2="366.44" y2="496.50" stroke="#c6c6c6" stroke-width="1.5"/>
<line x1="370.34" y1="453.80" x2="370.34" y2="496.50" stroke="#c6c6c6" stroke-width="1.5"/>
<line x1="374.13" y1="453.80" x2="374.13" y2="496.50" stroke="#c6c6c6" stroke-width="1.5"/>
<line x1="378.03" y1="453.80" x2="378.03" y2="496.50" stroke="#c6c6c6" stroke-width="1.5"/>
<line x1="381.82" y1="453.80" x2="381.82" y2="496.50" stroke="#c6c6c6" stroke-width="1.5"/>
<line x1="385.72" y1="453.80" x2="385.72" y2="496.50" stroke="#c6c6c6" stroke-width="1.5"/>
<line x1="389.51" y1="453.80" x2="389.51" y2="496.50" stroke="#c6c6c6" stroke-width="1.5"/>
<line x1="393.41" y1="453.80" x2="393.41" y2="496.50" stroke="#c6c6c6" stroke-width="1.5"/>
<line x1="397.20" y1="453.80" x2="397.20" y2="496.50" stroke="#c6c6c6" stroke-width="1.5"/>
<line x1="401.10" y1="453.80" x2="401.10" y2="496.50" stroke="#c6c6c6" stroke-width="1.5"/>
<line x1="404.89" y1="453.80" x2="404.89" y2="496.50" stroke="#c6c6c6" stroke-width="1.5"/>
<line x1="408.79" y1="453.80" x2="408.79" y2="496.50" stroke="#c6c6c6" stroke-width="1.5"/>
<line x1="412.58" y1="453.80" x2="412.58" y2="496.50" stroke="#c6c6c6" stroke-width="1.5"/>
<line x1="416.48" y1="453.80" x2="416.48" y2="496.50" stroke="#c6c6c6" stroke-width="1.5"/>
<line x1="420.27" y1="453.80" x2="420.27" y2="496.50" stroke="#c6c6c6" stroke-width="1.5"/>
<line x1="424.17" y1="453.80" x2="424.17" y2="496.50" stroke="#c6c6c6" stroke-width="1.5"/>
<line x1="427.96" y1="453.80" x2="427.96" y2="496.50" stroke="#c6c6c6" stroke-width="1.5"/>
<line x1="374.20" y1="453.80" x2="374.20" y2="496.50" stroke="#9a9a9a" stroke-width="0.8"/>
<line x1="401.70" y1="453.80" x2="401.70" y2="496.50" stroke="#9a9a9a" stroke-width="0.8"/>
<line x1="416.40" y1="453.80" x2="416.40" y2="496.50" stroke="#9a9a9a" stroke-width="0.8"/>
<path d="M360.7,452.0 L362.10,452.0 L362.10,453.80 L366.99,453.80 L366.99,452.0 L369.79,452.0 L369.79,453.80 L374.68,453.80 L374.68,452.0 L377.48,452.0 L377.48,453.80 L382.37,453.80 L382.37,452.0 L385.17,452.0 L385.17,453.80 L390.06,453.80 L390.06,452.0 L392.86,452.0 L392.86,453.80 L397.75,453.80 L397.75,452.0 L400.55,452.0 L400.55,453.80 L405.44,453.80 L405.44,452.0 L408.24,452.0 L408.24,453.80 L413.13,453.80 L413.13,452.0 L415.93,452.0 L415.93,453.80 L420.82,453.80 L420.82,452.0 L423.62,452.0 L423.62,453.80 L428.51,453.80 L428.51,452.0 L429.91,452.0" stroke="#a8a8a8" stroke-width="0.8" fill="none" />
<path d="M360.7,498.3 L362.10,498.3 L362.10,496.50 L366.99,496.50 L366.99,498.3 L369.79,498.3 L369.79,496.50 L374.68,496.50 L374.68,498.3 L377.48,498.3 L377.48,496.50 L382.37,496.50 L382.37,498.3 L385.17,498.3 L385.17,496.50 L390.06,496.50 L390.06,498.3 L392.86,498.3 L392.86,496.50 L397.75,496.50 L397.75,498.3 L400.55,498.3 L400.55,496.50 L405.44,496.50 L405.44,498.3 L408.24,498.3 L408.24,496.50 L413.13,496.50 L413.13,498.3 L415.93,498.3 L415.93,496.50 L420.82,496.50 L420.82,498.3 L423.62,498.3 L423.62,496.50 L428.51,496.50 L428.51,498.3 L429.91,498.3" stroke="#a8a8a8" stroke-width="0.8" fill="none" />
<line x1="360.70" y1="452.00" x2="360.70" y2="498.30" stroke="#b0b0b0" stroke-width="0.9"/>
<line x1="429.90" y1="452.00" x2="429.90" y2="498.30" stroke="#b0b0b0" stroke-width="0.9"/>
<rect x="359.70" y="451.10" width="2.0" height="1.5" fill="#b4b4b4"/>
<rect x="359.70" y="497.70" width="2.0" height="1.5" fill="#b4b4b4"/>
<rect x="367.39" y="451.10" width="2.0" height="1.5" fill="#b4b4b4"/>
<rect x="367.39" y="497.70" width="2.0" height="1.5" fill="#b4b4b4"/>
<rect x="375.08" y="451.10" width="2.0" height="1.5" fill="#b4b4b4"/>
<rect x="375.08" y="497.70" width="2.0" height="1.5" fill="#b4b4b4"/>
<rect x="382.77" y="451.10" width="2.0" height="1.5" fill="#b4b4b4"/>
<rect x="382.77" y="497.70" width="2.0" height="1.5" fill="#b4b4b4"/>
<rect x="390.46" y="451.10" width="2.0" height="1.5" fill="#b4b4b4"/>
<rect x="390.46" y="497.70" width="2.0" height="1.5" fill="#b4b4b4"/>
<rect x="398.15" y="451.10" width="2.0" height="1.5" fill="#b4b4b4"/>
<rect x="398.15" y="497.70" width="2.0" height="1.5" fill="#b4b4b4"/>
<rect x="405.84" y="451.10" width="2.0" height="1.5" fill="#b4b4b4"/>
<rect x="405.84" y="497.70" width="2.0" height="1.5" fill="#b4b4b4"/>
<rect x="413.53" y="451.10" width="2.0" height="1.5" fill="#b4b4b4"/>
<rect x="413.53" y="497.70" width="2.0" height="1.5" fill="#b4b4b4"/>
<rect x="421.22" y="451.10" width="2.0" height="1.5" fill="#b4b4b4"/>
<rect x="421.22" y="497.70" width="2.0" height="1.5" fill="#b4b4b4"/>
<rect x="428.91" y="451.10" width="2.0" height="1.5" fill="#b4b4b4"/>
<rect x="428.91" y="497.70" width="2.0" height="1.5" fill="#b4b4b4"/>
<line x1="362.65" y1="510.00" x2="362.65" y2="550.80" stroke="#c6c6c6" stroke-width="1.5"/>
<line x1="366.44" y1="510.00" x2="366.44" y2="550.80" stroke="#c6c6c6" stroke-width="1.5"/>
<line x1="370.34" y1="510.00" x2="370.34" y2="550.80" stroke="#c6c6c6" stroke-width="1.5"/>
<line x1="374.13" y1="510.00" x2="374.13" y2="550.80" stroke="#c6c6c6" stroke-width="1.5"/>
<line x1="378.03" y1="510.00" x2="378.03" y2="550.80" stroke="#c6c6c6" stroke-width="1.5"/>
<line x1="381.82" y1="510.00" x2="381.82" y2="550.80" stroke="#c6c6c6" stroke-width="1.5"/>
<line x1="385.72" y1="510.00" x2="385.72" y2="550.80" stroke="#c6c6c6" stroke-width="1.5"/>
<line x1="389.51" y1="510.00" x2="389.51" y2="550.80" stroke="#c6c6c6" stroke-width="1.5"/>
<line x1="393.41" y1="510.00" x2="393.41" y2="550.80" stroke="#c6c6c6" stroke-width="1.5"/>
<line x1="397.20" y1="510.00" x2="397.20" y2="550.80" stroke="#c6c6c6" stroke-width="1.5"/>
<line x1="401.10" y1="510.00" x2="401.10" y2="550.80" stroke="#c6c6c6" stroke-width="1.5"/>
<line x1="404.89" y1="510.00" x2="404.89" y2="550.80" stroke="#c6c6c6" stroke-width="1.5"/>
<line x1="408.79" y1="510.00" x2="408.79" y2="550.80" stroke="#c6c6c6" stroke-width="1.5"/>
<line x1="412.58" y1="510.00" x2="412.58" y2="550.80" stroke="#c6c6c6" stroke-width="1.5"/>
<line x1="416.48" y1="510.00" x2="416.48" y2="550.80" stroke="#c6c6c6" stroke-width="1.5"/>
<line x1="420.27" y1="510.00" x2="420.27" y2="550.80" stroke="#c6c6c6" stroke-width="1.5"/>
<line x1="424.17" y1="510.00" x2="424.17" y2="550.80" stroke="#c6c6c6" stroke-width="1.5"/>
<line x1="427.96" y1="510.00" x2="427.96" y2="550.80" stroke="#c6c6c6" stroke-width="1.5"/>
<line x1="374.20" y1="510.00" x2="374.20" y2="550.80" stroke="#9a9a9a" stroke-width="0.8"/>
<line x1="401.70" y1="510.00" x2="401.70" y2="550.80" stroke="#9a9a9a" stroke-width="0.8"/>
<line x1="416.40" y1="510.00" x2="416.40" y2="550.80" stroke="#9a9a9a" stroke-width="0.8"/>
<path d="M360.7,508.2 L362.10,508.2 L362.10,510.00 L366.99,510.00 L366.99,508.2 L369.79,508.2 L369.79,510.00 L374.68,510.00 L374.68,508.2 L377.48,508.2 L377.48,510.00 L382.37,510.00 L382.37,508.2 L385.17,508.2 L385.17,510.00 L390.06,510.00 L390.06,508.2 L392.86,508.2 L392.86,510.00 L397.75,510.00 L397.75,508.2 L400.55,508.2 L400.55,510.00 L405.44,510.00 L405.44,508.2 L408.24,508.2 L408.24,510.00 L413.13,510.00 L413.13,508.2 L415.93,508.2 L415.93,510.00 L420.82,510.00 L420.82,508.2 L423.62,508.2 L423.62,510.00 L428.51,510.00 L428.51,508.2 L429.91,508.2" stroke="#a8a8a8" stroke-width="0.8" fill="none" />
<path d="M360.7,552.6 L362.10,552.6 L362.10,550.80 L366.99,550.80 L366.99,552.6 L369.79,552.6 L369.79,550.80 L374.68,550.80 L374.68,552.6 L377.48,552.6 L377.48,550.80 L382.37,550.80 L382.37,552.6 L385.17,552.6 L385.17,550.80 L390.06,550.80 L390.06,552.6 L392.86,552.6 L392.86,550.80 L397.75,550.80 L397.75,552.6 L400.55,552.6 L400.55,550.80 L405.44,550.80 L405.44,552.6 L408.24,552.6 L408.24,550.80 L413.13,550.80 L413.13,552.6 L415.93,552.6 L415.93,550.80 L420.82,550.80 L420.82,552.6 L423.62,552.6 L423.62,550.80 L428.51,550.80 L428.51,552.6 L429.91,552.6" stroke="#a8a8a8" stroke-width="0.8" fill="none" />
<line x1="360.70" y1="508.20" x2="360.70" y2="552.60" stroke="#b0b0b0" stroke-width="0.9"/>
<line x1="429.90" y1="508.20" x2="429.90" y2="552.60" stroke="#b0b0b0" stroke-width="0.9"/>
<rect x="359.70" y="507.30" width="2.0" height="1.5" fill="#b4b4b4"/>
<rect x="359.70" y="552.00" width="2.0" height="1.5" fill="#b4b4b4"/>
<rect x="367.39" y="507.30" width="2.0" height="1.5" fill="#b4b4b4"/>
<rect x="367.39" y="552.00" width="2.0" height="1.5" fill="#b4b4b4"/>
<rect x="375.08" y="507.30" width="2.0" height="1.5" fill="#b4b4b4"/>
<rect x="375.08" y="552.00" width="2.0" height="1.5" fill="#b4b4b4"/>
<rect x="382.77" y="507.30" width="2.0" height="1.5" fill="#b4b4b4"/>
<rect x="382.77" y="552.00" width="2.0" height="1.5" fill="#b4b4b4"/>
<rect x="390.46" y="507.30" width="2.0" height="1.5" fill="#b4b4b4"/>
<rect x="390.46" y="552.00" width="2.0" height="1.5" fill="#b4b4b4"/>
<rect x="398.15" y="507.30" width="2.0" height="1.5" fill="#b4b4b4"/>
<rect x="398.15" y="552.00" width="2.0" height="1.5" fill="#b4b4b4"/>
<rect x="405.84" y="507.30" width="2.0" height="1.5" fill="#b4b4b4"/>
<rect x="405.84" y="552.00" width="2.0" height="1.5" fill="#b4b4b4"/>
<rect x="413.53" y="507.30" width="2.0" height="1.5" fill="#b4b4b4"/>
<rect x="413.53" y="552.00" width="2.0" height="1.5" fill="#b4b4b4"/>
<rect x="421.22" y="507.30" width="2.0" height="1.5" fill="#b4b4b4"/>
<rect x="421.22" y="552.00" width="2.0" height="1.5" fill="#b4b4b4"/>
<rect x="428.91" y="507.30" width="2.0" height="1.5" fill="#b4b4b4"/>
<rect x="428.91" y="552.00" width="2.0" height="1.5" fill="#b4b4b4"/>
<rect x="367.19" y="499.60" width="2.4" height="7.30" fill="#fff"/>
<rect x="374.88" y="499.60" width="2.4" height="7.30" fill="#fff"/>
<rect x="382.57" y="499.60" width="2.4" height="7.30" fill="#fff"/>
<rect x="390.26" y="499.60" width="2.4" height="7.30" fill="#fff"/>
<rect x="397.95" y="499.60" width="2.4" height="7.30" fill="#fff"/>
<rect x="405.64" y="499.60" width="2.4" height="7.30" fill="#fff"/>
<rect x="413.33" y="499.60" width="2.4" height="7.30" fill="#fff"/>
<rect x="421.02" y="499.60" width="2.4" height="7.30" fill="#fff"/>
<rect x="367.19" y="554.00" width="2.4" height="13.50" fill="#fff"/>
<rect x="374.88" y="554.00" width="2.4" height="13.50" fill="#fff"/>
<rect x="382.57" y="554.00" width="2.4" height="13.50" fill="#fff"/>
<rect x="390.26" y="554.00" width="2.4" height="13.50" fill="#fff"/>
<rect x="397.95" y="554.00" width="2.4" height="13.50" fill="#fff"/>
<rect x="405.64" y="554.00" width="2.4" height="13.50" fill="#fff"/>
<rect x="413.33" y="554.00" width="2.4" height="13.50" fill="#fff"/>
<rect x="421.02" y="554.00" width="2.4" height="13.50" fill="#fff"/>
<rect x="367.19" y="440.00" width="2.4" height="10.50" fill="#fff"/>
<rect x="374.88" y="440.00" width="2.4" height="10.50" fill="#fff"/>
<rect x="382.57" y="440.00" width="2.4" height="10.50" fill="#fff"/>
<rect x="390.26" y="440.00" width="2.4" height="10.50" fill="#fff"/>
<rect x="397.95" y="440.00" width="2.4" height="10.50" fill="#fff"/>
<rect x="405.64" y="440.00" width="2.4" height="10.50" fill="#fff"/>
<rect x="413.33" y="440.00" width="2.4" height="10.50" fill="#fff"/>
<rect x="421.02" y="440.00" width="2.4" height="10.50" fill="#fff"/>
<rect x="319.30" y="438.40" width="152.00" height="130.80" rx="10.2" ry="9.6" stroke="#a0a0a0" stroke-width="1.1" fill="none"/>
<rect x="458.70" y="525.20" width="5.60" height="11.00" rx="2.8" ry="2.6" stroke="#777" stroke-width="0.9" fill="#fff"/>
<line x1="252.50" y1="478.10" x2="316.00" y2="478.10" stroke="#bdbdbd" stroke-width="0.9"/>
<ellipse cx="242.6" cy="477.5" rx="8.6" ry="5.6" fill="#fff" stroke="#666" stroke-width="0.9"/>
<text x="242.6" y="480.9" font-size="9.6" font-weight="bold" text-anchor="middle" fill="#2c2c2c" transform="translate(242.6,0) scale(1.38,1) translate(-242.6,0)">1</text>
<line x1="252.50" y1="524.40" x2="316.00" y2="524.40" stroke="#8e8e8e" stroke-width="0.9"/>
<ellipse cx="242.6" cy="523.8" rx="8.6" ry="5.6" fill="#fff" stroke="#666" stroke-width="0.9"/>
<text x="242.6" y="527.2" font-size="9.6" font-weight="bold" text-anchor="middle" fill="#2c2c2c" transform="translate(242.6,0) scale(1.38,1) translate(-242.6,0)">2</text>
<line x1="474.00" y1="477.10" x2="535.50" y2="477.10" stroke="#c6c6c6" stroke-width="0.9"/>
<ellipse cx="546.5" cy="477.2" rx="8.6" ry="5.6" fill="#fff" stroke="#666" stroke-width="0.9"/>
<text x="546.5" y="480.6" font-size="9.6" font-weight="bold" text-anchor="middle" fill="#2c2c2c" transform="translate(546.5,0) scale(1.38,1) translate(-546.5,0)">7</text>
<line x1="474.00" y1="512.30" x2="536.00" y2="512.30" stroke="#8e8e8e" stroke-width="0.9"/>
<ellipse cx="547.3" cy="511.9" rx="8.6" ry="5.6" fill="#fff" stroke="#666" stroke-width="0.9"/>
<text x="547.3" y="515.3" font-size="9.6" font-weight="bold" text-anchor="middle" fill="#2c2c2c" transform="translate(547.3,0) scale(1.38,1) translate(-547.3,0)">6</text>
<line x1="474.00" y1="544.80" x2="535.50" y2="544.80" stroke="#c2c2c2" stroke-width="0.9"/>
<ellipse cx="546.9" cy="544.7" rx="8.6" ry="5.6" fill="#fff" stroke="#666" stroke-width="0.9"/>
<text x="546.9" y="548.1" font-size="9.6" font-weight="bold" text-anchor="middle" fill="#2c2c2c" transform="translate(546.9,0) scale(1.38,1) translate(-546.9,0)">5</text>
<line x1="370.60" y1="411.70" x2="370.60" y2="436.60" stroke="#d2d2d2" stroke-width="1.6"/>
<ellipse cx="370.8" cy="404.3" rx="8.6" ry="5.6" fill="#fff" stroke="#666" stroke-width="0.9"/>
<text x="370.8" y="407.7" font-size="9.6" font-weight="bold" text-anchor="middle" fill="#2c2c2c" transform="translate(370.8,0) scale(1.38,1) translate(-370.8,0)">9</text>
<line x1="423.90" y1="412.10" x2="423.90" y2="436.20" stroke="#8a8a8a" stroke-width="1.3"/>
<ellipse cx="424.2" cy="404.3" rx="8.6" ry="5.6" fill="#fff" stroke="#666" stroke-width="0.9"/>
<text x="424.2" y="407.7" font-size="9.6" font-weight="bold" text-anchor="middle" fill="#2c2c2c" transform="translate(424.2,0) scale(1.38,1) translate(-424.2,0)">8</text>
<line x1="372.80" y1="573.50" x2="372.80" y2="598.20" stroke="#8a8a8a" stroke-width="1.3"/>
<ellipse cx="372.5" cy="605.6" rx="8.6" ry="5.6" fill="#fff" stroke="#666" stroke-width="0.9"/>
<text x="372.5" y="609.0" font-size="9.6" font-weight="bold" text-anchor="middle" fill="#2c2c2c" transform="translate(372.5,0) scale(1.38,1) translate(-372.5,0)">3</text>
<line x1="416.10" y1="573.50" x2="416.10" y2="598.20" stroke="#9a9a9a" stroke-width="1.3"/>
<ellipse cx="416.4" cy="605.6" rx="8.6" ry="5.6" fill="#fff" stroke="#666" stroke-width="0.9"/>
<text x="416.4" y="609.0" font-size="9.6" font-weight="bold" text-anchor="middle" fill="#2c2c2c" transform="translate(416.4,0) scale(1.38,1) translate(-416.4,0)">4</text>
</g>
</svg></body></html>
